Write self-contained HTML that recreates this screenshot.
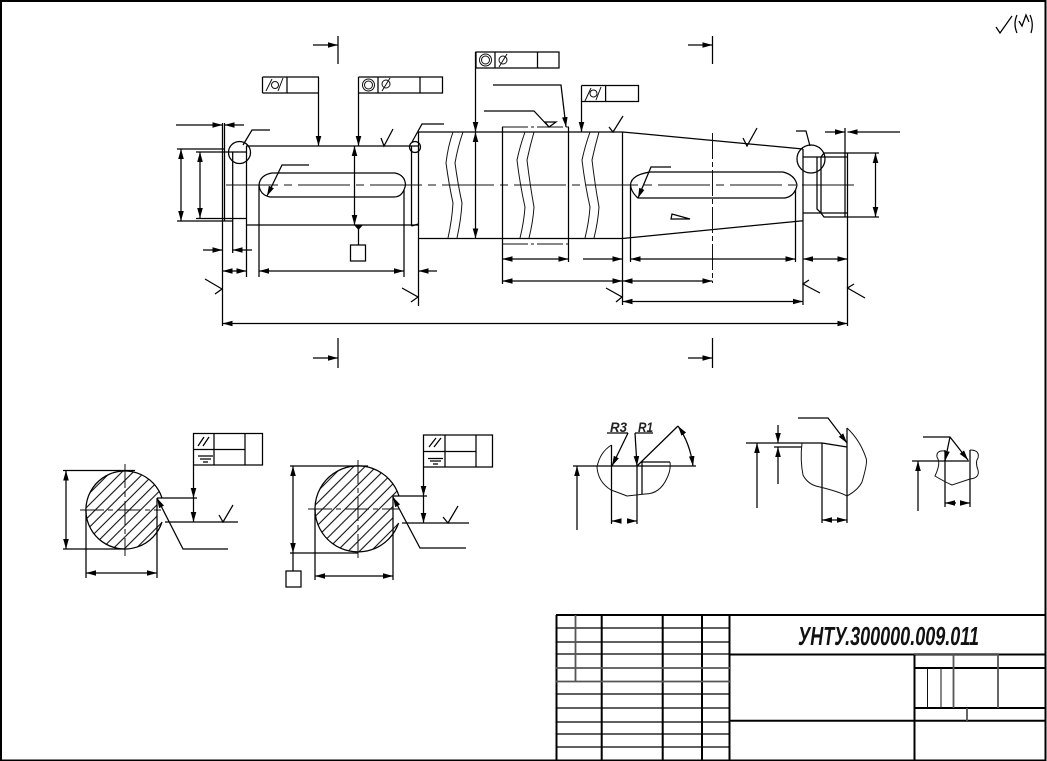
<!DOCTYPE html>
<html><head><meta charset="utf-8"><style>
html,body{margin:0;padding:0;background:#fff}
svg{display:block}
.l{fill:none;stroke:#000;stroke-width:1.25}
.t{fill:none;stroke:#111;stroke-width:1}
.h{fill:none;stroke:#000;stroke-width:2}
.g{fill:none;stroke:#555;stroke-width:1.8}
.c{stroke-dasharray:52 6 8 6}
</style></head><body>
<svg width="1047" height="761" viewBox="0 0 1047 761" xmlns="http://www.w3.org/2000/svg">
<defs>
<marker id="a" markerUnits="userSpaceOnUse" markerWidth="11" markerHeight="6" refX="10" refY="3" orient="auto-start-reverse"><path d="M0,.2L10,3L0,5.800Z" fill="#000"/></marker>
<pattern id="hat" width="8" height="8" patternUnits="userSpaceOnUse" patternTransform="rotate(-45)"><line x1="0" y1="4" x2="8" y2="4" stroke="#111" stroke-width="1.1"/></pattern>
<clipPath id="s1"><path d="M162,498A39,39 0 1 0 162,522L157,522L157,498Z"/></clipPath>
<clipPath id="s2"><path d="M399,496A43,43 0 1 0 398.600,523L393,523L393,496Z"/></clipPath>
</defs>
<rect width="1047" height="761" fill="#fff"/>
<!-- sheet frame -->
<path d="M1,0V760.500H1045.500V0M1,1H1045.500" fill="none" stroke="#000" stroke-width="2"/>
<!-- top-right roughness -->
<path class="l" d="M996,27L1000,33L1012,16M1017,15Q1013,24 1017,33M1030,15Q1034,24 1031,33M1019,21L1022,26L1026,15L1029,22"/>

<!-- section marks -->
<path class="l" d="M338,36V64M338,338V368M712.500,36V64M712.500,338V368"/>
<path class="l" marker-end="url(#a)" d="M313,45H338"/><path class="l" marker-end="url(#a)" d="M313,358H338"/>
<path class="l" marker-end="url(#a)" d="M688,45H712.500"/><path class="l" marker-end="url(#a)" d="M688,358H712.500"/>

<!-- shaft -->
<path class="l" d="M222.500,123V326M224.500,123V221M222,152H232.700V253M196,152H246M196,218.500H246M177,149H224M177,221H233"/>
<path class="l" d="M246.500,146V277M246,146H418M246,225H418M411.500,146V226M418.500,132V306M418,132H622.500M418,238.500H622.500"/>
<path class="l" d="M411.500,226L418.500,224"/>
<path class="t c" d="M226,185H858"/>
<!-- keyways -->
<path class="l" d="M272,173H395Q405,175 405.500,185Q403,197 394,197H270Q260,195 259,185Q260,175 272,173Z"/>
<path class="l" d="M259,185V277M404,190V277"/>
<path class="l" d="M650,172H783Q795,175 797,185Q795,196 785,198H638Q631,192 630.500,185Q631,175 650,172Z"/>
<path class="l" d="M630.500,185V262M795.500,190V262"/>
<!-- taper and thread -->
<path class="l" d="M622.500,132V305M622.500,132L803,149M622.500,238.500L803,220.700M803,149V305"/>
<path class="l" d="M803,157H848M803,213H848M817,157V209L821,213M821,157L824,153H847.500V326M821,157V213L824,217H875M845,128V217M847.500,153H879M847.500,217H879"/>
<path class="t" stroke-dasharray="26 3 5 3" d="M712.500,133V283"/>
<!-- breaks -->
<path class="t" d="M453,132Q448,146 446,163Q449,185 453,203Q452,220 448,238M463,132Q458,146 455,163Q458,185 462,203Q461,220 457,238M525,132Q520,146 517,160Q520,185 525,207Q524,222 520,238M534,132Q530,146 527,160Q530,185 534,207Q533,222 529,238M590,132Q585,146 582,160Q585,185 590,207Q589,222 585,238M599,132Q595,146 592,160Q595,185 599,207Q598,222 594,238"/>
<path class="l" d="M502.500,127V284M568.500,127V262"/>
<path class="t" stroke-dasharray="26 3 3 3" d="M502,127H569M502,244H569"/>
<!-- detail circles -->
<circle class="l" cx="239.500" cy="152.500" r="11"/><circle class="l" cx="415" cy="147" r="5.500"/><circle class="l" cx="811" cy="159" r="14"/>
<path class="l" d="M243,145L252,130H270M412,142L422,124H444M796,131H806L810,146"/>
<path class="l" marker-end="url(#a)" d="M309,165H282L267,196"/>
<path class="l" marker-end="url(#a)" d="M671,167H651L638,198"/>
<path class="l" d="M672,214L671,219H690Z"/>

<!-- dims left -->
<path class="l" marker-start="url(#a)" marker-end="url(#a)" d="M181,149V221"/>
<path class="l" marker-start="url(#a)" marker-end="url(#a)" d="M200,152V218"/>
<path class="l" marker-end="url(#a)" d="M176,125H222.500"/><path class="l" marker-end="url(#a)" d="M244,125H224.500"/>
<path class="l" marker-end="url(#a)" d="M203,250H222.500"/><path class="l" marker-end="url(#a)" d="M252,250H232.700"/>
<path class="l" marker-start="url(#a)" marker-end="url(#a)" d="M222.500,271H246.500"/>
<path class="l" marker-start="url(#a)" marker-end="url(#a)" d="M259,271H404"/>
<path class="l" marker-end="url(#a)" d="M437,271H418.500"/>
<path class="l" marker-start="url(#a)" marker-end="url(#a)" d="M222.500,323.500H847.500"/>
<path class="l" marker-start="url(#a)" marker-end="url(#a)" d="M354.500,146V225"/>
<path class="l" marker-start="url(#a)" marker-end="url(#a)" d="M475.500,132V238.500"/>
<!-- dims middle/right -->
<path class="l" marker-start="url(#a)" marker-end="url(#a)" d="M502.500,259H568.500"/>
<path class="l" marker-end="url(#a)" d="M583,259H622.500"/>
<path class="l" marker-start="url(#a)" marker-end="url(#a)" d="M630.500,259H795.500"/>
<path class="l" marker-start="url(#a)" marker-end="url(#a)" d="M803,259H847.500"/>
<path class="l" marker-start="url(#a)" marker-end="url(#a)" d="M502.500,281H622.500"/>
<path class="l" marker-start="url(#a)" marker-end="url(#a)" d="M622.500,281H712.500"/>
<path class="l" marker-start="url(#a)" marker-end="url(#a)" d="M622.500,301.500H803"/>
<path class="l" marker-start="url(#a)" marker-end="url(#a)" d="M875.500,153V217"/>
<path class="l" marker-end="url(#a)" d="M825,132H845"/><path class="l" marker-end="url(#a)" d="M900,132H847.500"/>

<!-- geometric tolerance frames -->
<path class="l" d="M262.500,77H319M262.500,93H319M262.500,77V93M287,77V93"/>
<circle class="t" cx="275" cy="85" r="3.500"/><path class="t" d="M266,91L272,79M278,91L283,78"/>
<path class="l" marker-end="url(#a)" d="M318.500,77V146"/>
<path class="l" d="M358.500,77H442.500V93H358.500M378,77V93M420,77V93"/>
<circle class="t" cx="368.500" cy="85" r="6"/><circle class="t" cx="368.500" cy="85" r="4"/>
<circle class="t" cx="386" cy="84" r="4"/><path class="t" d="M382,91L390,78"/>
<path class="l" marker-end="url(#a)" d="M358.500,77V146"/>
<path class="l" d="M476,52H559V68H476ZM495,52V68M537.500,52V68"/>
<circle class="t" cx="485.500" cy="60" r="6"/><circle class="t" cx="485.500" cy="60" r="4"/>
<circle class="t" cx="503" cy="60" r="4"/><path class="t" d="M499,67L507,54"/>
<path class="l" marker-end="url(#a)" d="M475.500,52V132"/>
<path class="l" d="M581.500,85.500H638.500V101.500H581.500M605.600,85.500V101.500"/>
<circle class="t" cx="593.500" cy="93.500" r="3.500"/><path class="t" d="M585,101L591,88M596,100L601,87"/>
<path class="l" marker-end="url(#a)" d="M581.500,85.500V132"/>
<path class="l" marker-end="url(#a)" d="M493,85H561L566,127"/>
<path class="l" d="M484,111H534L549,127M545,122H556L549,127Z"/>
<!-- datum -->
<path d="M354,225H363L358.500,230Z" fill="#000"/>
<path class="l" d="M358.500,228V245M350.500,245H365.500V261H350.500Z"/>
<!-- roughness ticks -->
<path class="l" d="M381,138L384,146L393,129M609,127L613,132L623,116M743,138L747,146L757,128"/>
<path class="l" d="M205,279L222,289L215,294M402,288L418,297L411,302M606,288L622,297L616,302M820,293L803,284L809,280M865,298L847.500,288L854,284"/>

<!-- section 1 -->
<g clip-path="url(#s1)"><rect x="80" y="465" width="90" height="90" fill="url(#hat)"/></g>
<path class="l" d="M162,498A39,39 0 1 0 162,522"/>
<path class="t" stroke-dasharray="24 4 5 4" d="M80,510H161M125,464V556"/>
<path class="l" d="M157,498V578M86,510V578M63,470.500H135M63,549H125M157,498H197M165,522H238M219,515L223,522L233,505"/>
<path class="l" marker-start="url(#a)" marker-end="url(#a)" d="M66,470.500V549"/>
<path class="l" marker-start="url(#a)" marker-end="url(#a)" d="M86,573H157"/>
<path class="l" d="M193.500,433.500H262.500V465H193.500ZM193.500,449.500H245M214,433.500V465M245,433.500V465"/>
<path class="l" d="M198,446L204,437M203,446L209,437M198,456H213M200,459H211M203,462H208"/>
<path class="l" d="M193.500,465V480"/>
<path class="l" marker-end="url(#a)" d="M193.500,480V498"/>
<path class="l" marker-start="url(#a)" d="M193.500,522V498"/>
<path class="l" marker-end="url(#a)" d="M228,549H183L157,498"/>

<!-- section 2 -->
<g clip-path="url(#s2)"><rect x="310" y="460" width="96" height="98" fill="url(#hat)"/></g>
<path class="l" d="M399,496A43,43 0 1 0 398.600,523"/>
<path class="t" stroke-dasharray="24 4 5 4" d="M308,509H399M358,460V559"/>
<path class="l" d="M393,496V580M315,509V580M290,466H368M290,553H358M393,496H427M402,523H469M443,517L448,523L458,506"/>
<path class="l" marker-start="url(#a)" marker-end="url(#a)" d="M293,466V553"/>
<path class="l" d="M293,553V571M286,571H301V587H286Z"/>
<path class="l" marker-start="url(#a)" marker-end="url(#a)" d="M315,576H393"/>
<path class="l" d="M423.500,435H492.500V467H423.500ZM423.500,451.500H476M445,435V467M476,435V467"/>
<path class="l" d="M429,447L436,438M434,447L441,438M428,458.500H443M430,461H441M433,464H438"/>
<path class="l" marker-end="url(#a)" d="M423.500,467V496"/>
<path class="l" marker-start="url(#a)" d="M423.500,523V496"/>
<path class="l" marker-end="url(#a)" d="M466,548H420L393,497"/>

<!-- detail A -->
<path class="l" d="M573,466H696M611.500,445V524M637,466V524M642,462V494M642,462H670"/>
<path class="t" d="M611.500,445Q600,452 597,467Q598,482 611,490Q622,494 627,496L645,494Q660,494 667,478Q671,470 670,462"/>
<path class="l" d="M637,466L678,426"/>
<path class="l" marker-start="url(#a)" marker-end="url(#a)" d="M678,426Q690,443 693,466"/>
<path class="l" marker-end="url(#a)" d="M577,530V466"/>
<text x="610" y="432" font-family="'Liberation Sans',sans-serif" font-size="14" font-weight="bold" font-style="italic" fill="#222" textLength="17" lengthAdjust="spacingAndGlyphs">R3</text>
<text x="638" y="432" font-family="'Liberation Sans',sans-serif" font-size="14" font-weight="bold" font-style="italic" fill="#222" textLength="15" lengthAdjust="spacingAndGlyphs">R1</text>
<path class="l" d="M607,433H628M635,433H653"/>
<path class="l" marker-end="url(#a)" d="M628,433L612,466"/>
<path class="l" marker-end="url(#a)" d="M635,433L637,466"/>
<path class="l" marker-end="url(#a)" d="M621,521H611.500"/><path class="l" marker-end="url(#a)" d="M627,521H637"/>

<!-- detail B -->
<path class="l" d="M746,443H822M822,443L847,447M774,447H802M847,428V523M822,443V523"/>
<path class="t" d="M802,443Q800,460 803,475Q808,485 820,487Q840,492 847,496Q858,490 862,482Q868,462 866,458Q860,440 847,428"/>
<path class="l" marker-end="url(#a)" d="M757,508V443"/>
<path class="l" marker-end="url(#a)" d="M778,425V443"/><path class="l" marker-end="url(#a)" d="M778,484V447"/>
<path class="l" marker-end="url(#a)" d="M798,418H828L847,443"/>
<path class="l" marker-start="url(#a)" marker-end="url(#a)" d="M822,520H847"/>

<!-- detail C -->
<path class="l" d="M912,461H969M945,450V507M970,450V507"/>
<path class="t" d="M945,451Q936,450 937,457Q940,462 938,468Q937,472 935,476Q945,482 952,485L970,479Q980,478 978,470Q975,462 978,458Q980,450 970,450"/>
<path class="l" marker-end="url(#a)" d="M918,511V461"/>
<path class="l" marker-end="url(#a)" d="M923,437H950L968,460"/>
<path class="l" marker-end="url(#a)" d="M950,437L945,461"/>
<path class="l" marker-end="url(#a)" d="M956,503H945"/><path class="l" marker-end="url(#a)" d="M960,503H970"/>

<!-- title block -->
<path class="h" d="M556,615H1046M556.500,615V760M601.700,615V760M662.700,615V760M702,615V760M729.500,615V760"/>
<path class="l" stroke-width="1.2" d="M556,628H729M556,642H729M556,654H729M556,694H729M556,708H729M556,722H729M556,734H729M556,747H729"/>
<path class="g" d="M556,668H730M556,681.500H730M575.500,615V682"/>
<path class="h" d="M729,654.500H1046M729,720.700H1046M914.500,654V760M914,668H1046M914,708H1046"/>
<path class="g" d="M953.500,654V708M998,654V708M967,708V721M914,654H998"/>
<path class="t" d="M927.500,668V708M941,668V708"/>
<text x="798" y="645" font-family="'Liberation Sans','Noto Sans CJK SC',sans-serif" font-size="26" font-style="italic" font-weight="bold" fill="#111" textLength="181" lengthAdjust="spacingAndGlyphs">УНТУ.300000.009.011</text>
</svg>
</body></html>
